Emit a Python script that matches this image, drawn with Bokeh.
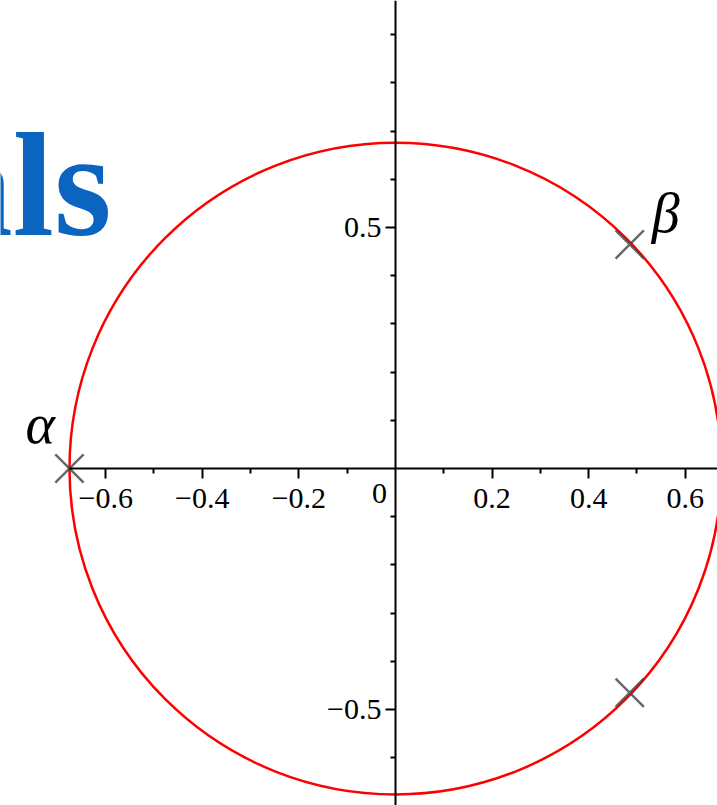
from bokeh.plotting import figure
from bokeh.models import FixedTicker, Label, Range1d, LinearAxis, CustomJSTickFormatter
from bokeh.embed import file_html
from bokeh.resources import INLINE
from bokeh.core.properties import value

# Circle of the roots and the marked points on it
radius = 0.675
point_x = [-0.675, 0.485, 0.485]
point_y = [0.0, 0.465, -0.465]
point_names = ["α", "β"]

# Ticks
x_major = [-0.6, -0.4, -0.2, 0.2, 0.4, 0.6]
x_minor = [-0.5, -0.3, -0.1, 0.1, 0.3, 0.5]
y_major = [-0.5, 0.5]
y_minor = [-0.6, -0.4, -0.3, -0.2, -0.1, 0.1, 0.2, 0.3, 0.4, 0.6, 0.7, 0.8, 0.9]

SERIF = "Liberation Serif"

p = figure(width=717, height=805,
           x_range=Range1d(-0.8178, 0.6667), y_range=Range1d(-0.699, 0.971),
           x_axis_type=None, y_axis_type=None,
           output_backend="svg", toolbar_location=None, min_border=0)
p.outline_line_color = None
p.background_fill_color = "white"
p.border_fill_color = "white"

fmt = CustomJSTickFormatter(code="return (tick < 0 ? '\\u2212' : '') + Math.abs(tick).toFixed(1)")

xaxis = LinearAxis(fixed_location=0,
                   ticker=FixedTicker(ticks=x_major, minor_ticks=x_minor),
                   formatter=fmt, bounds=(-0.675, 0.7))
yaxis = LinearAxis(fixed_location=0,
                   ticker=FixedTicker(ticks=y_major, minor_ticks=y_minor),
                   formatter=fmt)
for ax in (xaxis, yaxis):
    ax.axis_line_width = 2
    ax.axis_line_color = "black"
    ax.major_tick_in = 0
    ax.major_tick_out = 10
    ax.minor_tick_in = 0
    ax.minor_tick_out = 5
    ax.major_tick_line_width = 2
    ax.minor_tick_line_width = 2
    ax.major_label_text_font = SERIF
    ax.major_label_text_font_size = "30px"
    ax.major_label_text_color = "black"
xaxis.major_label_standoff = 10
yaxis.major_label_standoff = 4
p.add_layout(xaxis, "below")
p.add_layout(yaxis, "left")

# Origin label, set beside the vertical axis
p.text(x=[0], y=[0], text=["0"], x_offset=-16, y_offset=25,
       text_align="center", text_baseline="alphabetic",
       text_font=value(SERIF), text_font_size="30px", text_color="black")

# Background title fragment
p.add_layout(Label(x=111, y=621, x_units="screen", y_units="screen", text="als",
                   text_align="right", text_baseline="alphabetic",
                   text_font=SERIF, text_font_style="bold",
                   text_font_size="148px", text_color="#0A64C0", level="underlay"))

p.circle(x=[0], y=[0], radius=radius, fill_color=None,
         line_color="#ff0000", line_width=2.5)

p.scatter(point_x, point_y, marker="x", size=40,
          line_color="#444444", line_alpha=0.8, line_width=2.5)

p.text(x=point_x[:2], y=point_y[:2], text=point_names,
       x_offset=[-44, 22], y_offset=[-45, -31],
       text_align="left", text_baseline="alphabetic",
       text_font=value(SERIF), text_font_style="italic",
       text_font_size="56px", text_color="black")

open("out.html", "w").write(file_html(p, INLINE))
